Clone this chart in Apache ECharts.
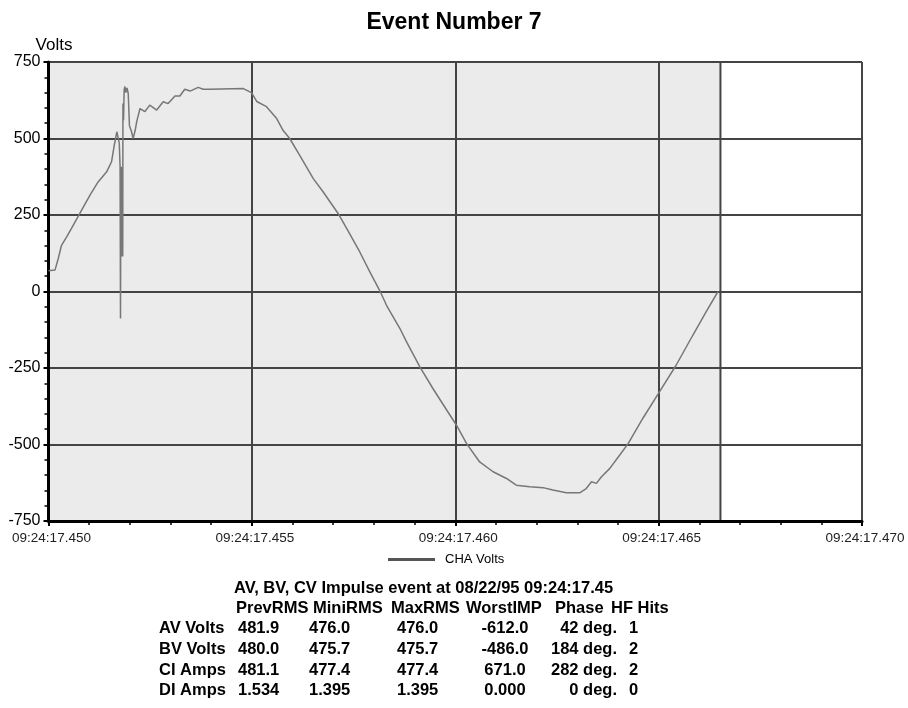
<!DOCTYPE html>
<html><head><meta charset="utf-8">
<script src="https://cdn.jsdelivr.net/npm/echarts@6/dist/echarts.min.js"></script>
<style>html,body{margin:0;padding:0;background:#fff}#c{width:908px;height:708px}</style>
</head><body><div id="c"></div>
<script>
// ---- data ----
const chartTitle = 'Event Number 7';
const yAxisName = 'Volts';
const seriesName = 'CHA Volts';
const xTickLabels = ['09:24:17.450', '09:24:17.455', '09:24:17.460', '09:24:17.465', '09:24:17.470'];
// time in ms after 09:24:17.450
const timeMs = [0, 0.16, 0.24, 0.32, 0.45, 0.61, 0.77, 1.02, 1.22, 1.43, 1.55, 1.61, 1.68, 1.74, 1.76, 1.77, 1.78, 1.785, 1.79, 1.795, 1.80, 1.805, 1.81, 1.815, 1.82, 1.825, 1.83, 1.845, 1.86, 1.88, 1.90, 1.93, 1.96, 1.99, 2.04, 2.08, 2.13, 2.17, 2.25, 2.37, 2.49, 2.66, 2.82, 2.94, 3.11, 3.23, 3.35, 3.48, 3.68, 3.80, 3.97, 4.79, 4.99, 5.12, 5.36, 5.61, 5.77, 5.93, 6.18, 6.51, 6.75, 7.12, 7.33, 7.65, 7.90, 8.14, 8.31, 8.64, 8.80, 9.13, 9.45, 10.03, 10.28, 10.60, 10.93, 11.26, 11.50, 11.83, 12.16, 12.40, 12.73, 13.06, 13.22, 13.35, 13.47, 13.59, 13.80, 14.04, 14.25, 14.61, 15.02, 15.43, 15.84, 16.17, 16.46];
const volts = [68, 70, 108, 151, 179, 217, 255, 315, 358, 391, 424, 473, 522, 484, 408, -88, 408, 114, 408, 114, 400, 114, 400, 114, 400, 114, 614, 560, 660, 670, 650, 665, 647, 542, 523, 500, 526, 556, 598, 588, 609, 593, 620, 614, 639, 639, 661, 655, 667, 661, 661, 663, 650, 621, 604, 565, 526, 500, 444, 369, 326, 255, 206, 130, 64, 4, -45, -121, -164, -246, -317, -437, -497, -557, -589, -611, -633, -638, -641, -649, -658, -658, -644, -622, -627, -606, -578, -535, -497, -415, -328, -241, -143, -66, 0];
const recordEndMs = 16.52;

const tableTitle = 'AV, BV, CV Impulse event at 08/22/95 09:24:17.45';
const tableHeaders = ['PrevRMS', 'MiniRMS', 'MaxRMS', 'WorstIMP', 'Phase', 'HF Hits'];
const rowLabels = ['AV Volts', 'BV Volts', 'CI Amps', 'DI Amps'];
const prevRMS = ['481.9', '480.0', '481.1', '1.534'];
const miniRMS = ['476.0', '475.7', '477.4', '1.395'];
const maxRMS = ['476.0', '475.7', '477.4', '1.395'];
const worstIMP = ['-612.0', '-486.0', '671.0', '0.000'];
const phase = ['42 deg.', '184 deg.', '282 deg.', '0 deg.'];
const hfHits = ['1', '2', '2', '0'];

// ---- layout ----
const FONT = "'Liberation Sans', Arial, Helvetica, sans-serif";
const tf = 'bold 16.5px ' + FONT;
const rowY0 = 608, rowH = 20.7;
const headerX = [236, 313, 391, 466, 555, 611];
const labelX = 159;
const colX = [
  {x: 238, a: 'left'}, {x: 309, a: 'left'}, {x: 397, a: 'left'},
  {x: 505, a: 'center'}, {x: 617, a: 'right'}, {x: 629, a: 'left'}
];
const cols = [prevRMS, miniRMS, maxRMS, worstIMP, phase, hfHits];

const graphics = [];
graphics.push({type: 'text', x: 234, y: 588, style: {text: tableTitle, font: tf, fill: '#000', textAlign: 'left', textVerticalAlign: 'middle'}});
tableHeaders.forEach((h, i) => graphics.push({type: 'text', x: headerX[i], y: rowY0, style: {text: h, font: tf, fill: '#000', textAlign: 'left', textVerticalAlign: 'middle'}}));
rowLabels.forEach((lab, r) => {
  const y = rowY0 + rowH * (r + 1);
  graphics.push({type: 'text', x: labelX, y, style: {text: lab, font: tf, fill: '#000', textAlign: 'left', textVerticalAlign: 'middle'}});
  cols.forEach((col, c) => graphics.push({type: 'text', x: colX[c].x, y, style: {text: col[r], font: tf, fill: '#000', textAlign: colX[c].a, textVerticalAlign: 'middle'}}));
});

const chart = echarts.init(document.getElementById('c'), null, {renderer: 'canvas'});
chart.setOption({
  animation: false,
  backgroundColor: '#fff',
  title: {text: chartTitle, left: 'center', top: 6, textStyle: {fontFamily: FONT, fontSize: 23, fontWeight: 'bold', color: '#000'}},
  legend: {
    data: [{name: seriesName, icon: 'rect', itemStyle: {color: '#555'}}],
    left: 388, top: 553, itemWidth: 47, itemHeight: 3, itemGap: 10, padding: 0,
    textStyle: {fontFamily: FONT, fontSize: 13, color: '#000', padding: [0, 0, 0, 5]}
  },
  grid: {left: 48.5, right: 46, top: 62, bottom: 187, containLabel: false},
  xAxis: {
    type: 'value', min: 0, max: 20, interval: 5, z: 3,
    axisLine: {show: true, onZero: false, lineStyle: {color: '#000', width: 3}},
    axisTick: {show: true, length: 5, lineStyle: {color: '#000', width: 2}},
    minorTick: {show: true, splitNumber: 5, length: 4, lineStyle: {color: '#000', width: 1.5}},
    splitLine: {show: true, lineStyle: {color: '#444', width: 2}},
    axisLabel: {fontFamily: FONT, fontSize: 13.5, color: '#222', margin: 10, padding: [0, 0, 0, 6], formatter: v => xTickLabels[Math.round(v / 5)]}
  },
  yAxis: {
    type: 'value', min: -750, max: 750, interval: 250, z: 3,
    name: yAxisName, nameLocation: 'end', nameGap: 6,
    nameTextStyle: {fontFamily: FONT, fontSize: 17, color: '#000', align: 'center', padding: [0, 0, 0, 11]},
    axisLine: {show: true, onZero: false, lineStyle: {color: '#000', width: 3}},
    axisTick: {show: true, length: 5, lineStyle: {color: '#000', width: 2}},
    minorTick: {show: true, splitNumber: 5, length: 4, lineStyle: {color: '#000', width: 1.5}},
    splitLine: {show: true, lineStyle: {color: '#444', width: 2}},
    axisLabel: {fontFamily: FONT, fontSize: 16, color: '#000', margin: 8}
  },
  series: [
    {
      name: 'record', type: 'line', data: [], z: -1, silent: true,
      markArea: {silent: true, itemStyle: {color: '#ebebeb', borderColor: '#444', borderWidth: 2},
        data: [[{xAxis: 0, yAxis: -750}, {xAxis: recordEndMs, yAxis: 750}]]}
    },
    {
      name: seriesName, type: 'line', z: 4,
      data: timeMs.map((t, i) => [t, volts[i]]),
      showSymbol: false, symbol: 'none',
      lineStyle: {color: '#777', width: 1.5}
    }
  ],
  graphic: graphics
});
</script></body></html>
